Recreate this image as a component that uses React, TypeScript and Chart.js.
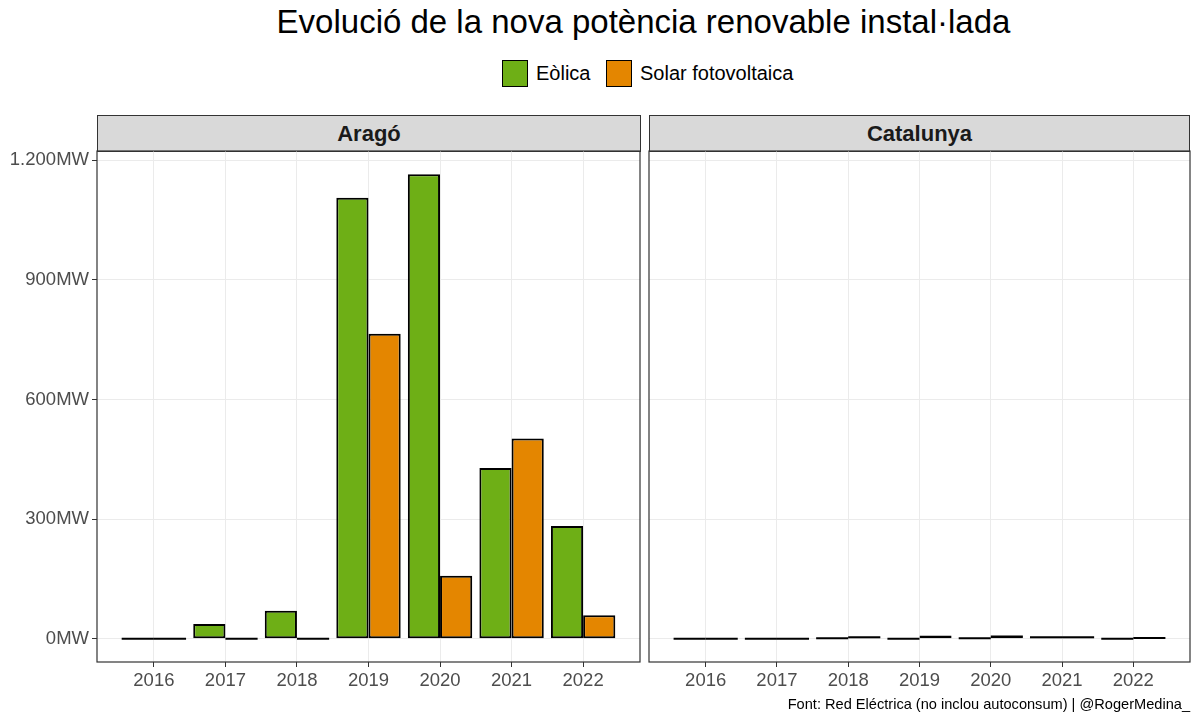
import React, { useEffect, useRef } from "react";
import { Chart, registerables } from "chart.js";
Chart.register(...registerables);

const years = [2016, 2017, 2018, 2019, 2020, 2021, 2022];
const yTicks = [0, 300, 600, 900, 1200];
const aragoEolica = [0, 37, 70, 1106, 1165, 428, 283];
const aragoSolar = [0, 0, 0, 765, 158, 502, 59];
const catEolica = [0, 0, 1, 0, 1, 4, 0];
const catSolar = [0, 0, 4, 8, 6, 4, 2];
const seriesNames = ["Eòlica", "Solar fotovoltaica"];
const panelNames = ["Aragó", "Catalunya"];

const GREEN = "#6EAF16";
const ORANGE = "#E48600";
const FONT = '"Liberation Sans", Arial, Helvetica, sans-serif';

function fmtMW(v: number) {
  return String(v).replace(/\B(?=(\d{3})+(?!\d))/g, ".") + "MW";
}

const panelPlugin = {
  id: "panelDecor",
  afterDatasetsDraw(chart: any) {
    const ctx = chart.ctx;
    chart.data.datasets.forEach((_ds: any, i: number) => {
      const meta = chart.getDatasetMeta(i);
      meta.data.forEach((el: any) => {
        const h = Math.abs(el.base - el.y);
        if (h < 2) {
          ctx.save();
          ctx.strokeStyle = "#000";
          ctx.lineWidth = 2;
          ctx.beginPath();
          ctx.moveTo(el.x - el.width / 2, el.y);
          ctx.lineTo(el.x + el.width / 2, el.y);
          ctx.stroke();
          ctx.restore();
        }
      });
    });
    const a = chart.chartArea;
    ctx.save();
    ctx.strokeStyle = "#333333";
    ctx.lineWidth = 1.2;
    ctx.strokeRect(a.left, a.top, a.right - a.left, a.bottom - a.top);
    ctx.restore();
  },
};

function Panel(props: { eol: number[]; sol: number[]; showY: boolean; left: number; width: number }) {
  const ref = useRef<HTMLCanvasElement>(null);
  useEffect(() => {
    const { eol, sol, showY } = props;
    const chart = new Chart(ref.current as HTMLCanvasElement, {
      type: "bar",
      data: {
        datasets: [
          {
            label: seriesNames[0],
            data: years.map((x, i) => ({ x, y: eol[i] })),
            backgroundColor: GREEN,
            borderColor: "#000",
            borderWidth: 2,
            borderSkipped: false,
            categoryPercentage: 0.9,
            barPercentage: 1,
          },
          {
            label: seriesNames[1],
            data: years.map((x, i) => ({ x, y: sol[i] })),
            backgroundColor: ORANGE,
            borderColor: "#000",
            borderWidth: 2,
            borderSkipped: false,
            categoryPercentage: 0.9,
            barPercentage: 1,
          },
        ],
      } as any,
      options: {
        animation: false,
        responsive: false,
        maintainAspectRatio: false,
        layout: { padding: { top: 10, bottom: 0, left: showY ? 0 : 5, right: 5 } },
        plugins: { legend: { display: false }, tooltip: { enabled: false } },
        scales: {
          x: {
            type: "linear",
            min: 2015.205,
            max: 2022.795,
            offset: false,
            afterBuildTicks: (s: any) => {
              s.ticks = years.map((v) => ({ value: v }));
            },
            afterFit: (s: any) => {
              s.height = 40;
              s.paddingLeft = 0;
              s.paddingRight = 0;
            },
            grid: { color: "#EBEBEB", lineWidth: 1, tickColor: "#333333", tickLength: 5, drawTicks: true, offset: false },
            border: { display: false },
            ticks: {
              color: "#4D4D4D",
              font: { family: FONT, size: 18.5 },
              padding: 3,
              maxRotation: 0,
              autoSkip: false,
              callback: (v: any) => String(v),
            },
          },
          y: {
            type: "linear",
            min: -58.25,
            max: 1223.25,
            afterBuildTicks: (s: any) => {
              s.ticks = yTicks.map((v) => ({ value: v }));
            },
            afterFit: (s: any) => {
              s.width = showY ? 97 : 0;
              s.paddingTop = 0;
              s.paddingBottom = 0;
            },
            grid: { color: "#EBEBEB", lineWidth: 1, tickColor: "#333333", tickLength: 5, drawTicks: showY },
            border: { display: false },
            ticks: {
              display: showY,
              color: "#4D4D4D",
              font: { family: FONT, size: 18.5 },
              padding: 3,
              callback: (v: any) => fmtMW(Number(v)),
            },
          },
        },
      } as any,
      plugins: [panelPlugin],
    });
    return () => chart.destroy();
  }, []);
  return (
    <canvas
      ref={ref}
      width={props.width}
      height={561}
      style={{ position: "absolute", left: props.left, top: 141, width: props.width, height: 561 }}
    />
  );
}

function Strip(props: { left: number; width: number; text: string }) {
  return (
    <div
      style={{
        position: "absolute",
        left: props.left,
        top: 115,
        width: props.width,
        height: 37,
        boxSizing: "border-box",
        border: "1.2px solid #333333",
        background: "#D9D9D9",
        color: "#1A1A1A",
        fontFamily: FONT,
        fontWeight: "bold",
        fontSize: 22,
        lineHeight: "35px",
        textAlign: "center",
      }}
    >
      {props.text}
    </div>
  );
}

export default function App() {
  return (
    <div
      style={{
        position: "fixed",
        left: 0,
        top: 0,
        width: 1200,
        height: 720,
        background: "#fff",
        overflow: "hidden",
        fontFamily: FONT,
      }}
    >
      <div
        style={{
          position: "absolute",
          left: 97,
          width: 1093,
          top: 2,
          height: 40,
          lineHeight: "40px",
          textAlign: "center",
          fontSize: 33,
          color: "#000",
        }}
      >
        Evolució de la nova potència renovable instal·lada
      </div>
      <div style={{ position: "absolute", left: 502, top: 60, width: 26, height: 27, boxSizing: "border-box", background: GREEN, border: "1.4px solid #000" }} />
      <div style={{ position: "absolute", left: 536, top: 58, height: 30, lineHeight: "30px", fontSize: 20, color: "#000" }}>{seriesNames[0]}</div>
      <div style={{ position: "absolute", left: 606, top: 60, width: 26, height: 27, boxSizing: "border-box", background: ORANGE, border: "1.4px solid #000" }} />
      <div style={{ position: "absolute", left: 640, top: 58, height: 30, lineHeight: "30px", fontSize: 20, color: "#000" }}>{seriesNames[1]}</div>

      <Strip left={97} width={544} text={panelNames[0]} />
      <Strip left={649} width={541} text={panelNames[1]} />

      <Panel eol={aragoEolica} sol={aragoSolar} showY={true} left={0} width={645} />
      <Panel eol={catEolica} sol={catSolar} showY={false} left={644} width={551} />

      <div
        style={{
          position: "absolute",
          right: 10,
          top: 694,
          height: 20,
          lineHeight: "20px",
          fontSize: 14.6,
          color: "#000",
          whiteSpace: "nowrap",
        }}
      >
        Font: Red Eléctrica (no inclou autoconsum) | @RogerMedina_
      </div>
    </div>
  );
}
